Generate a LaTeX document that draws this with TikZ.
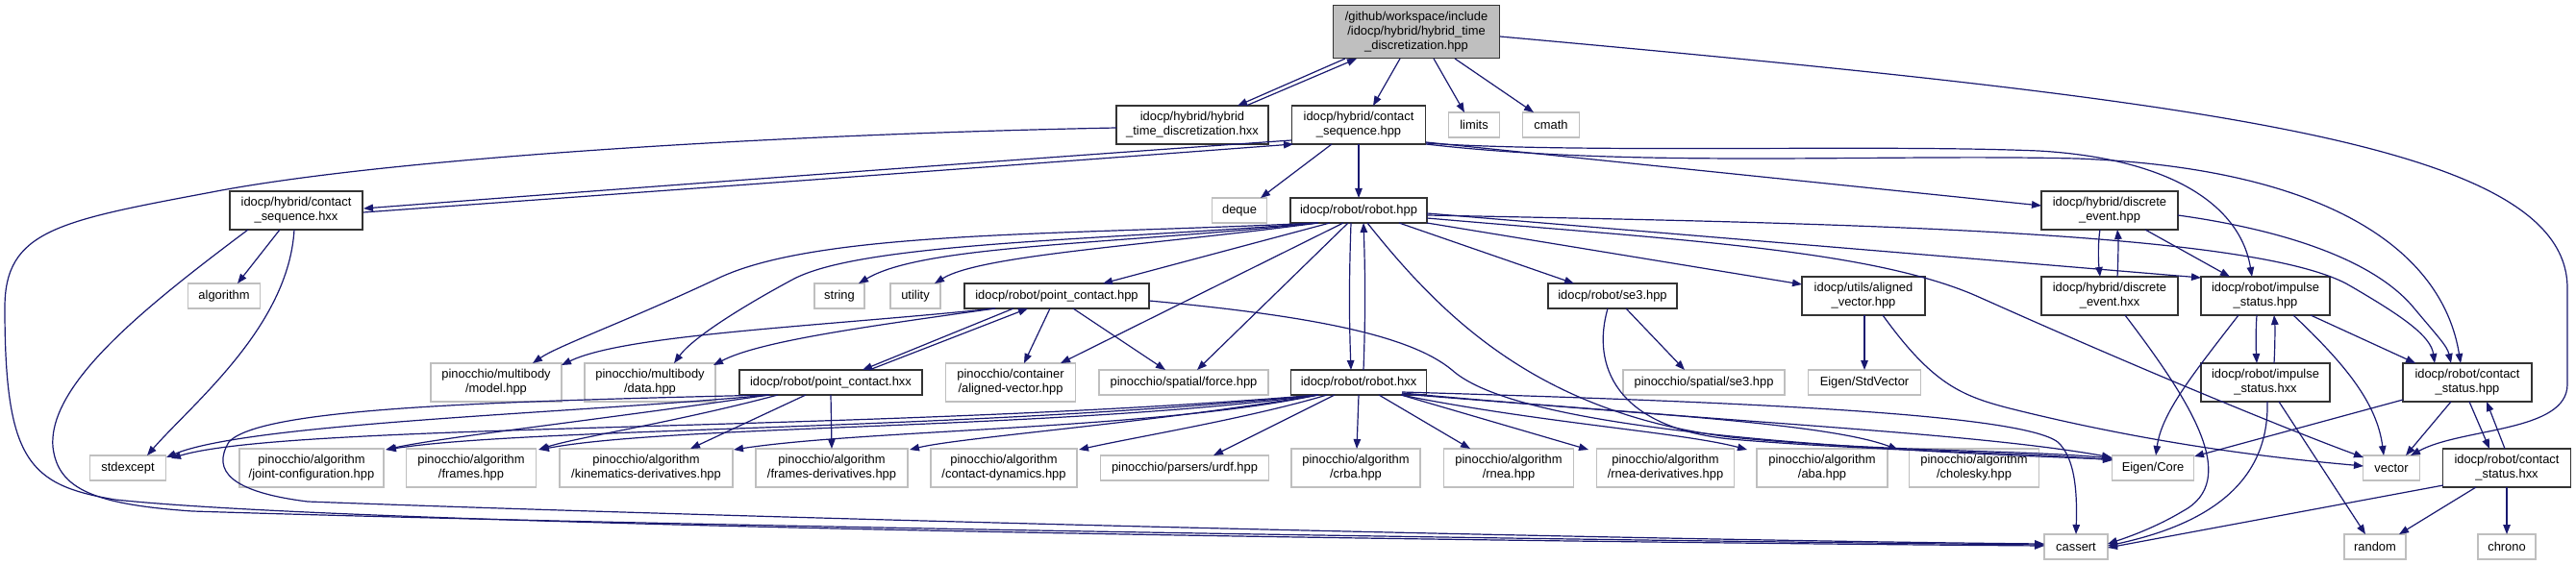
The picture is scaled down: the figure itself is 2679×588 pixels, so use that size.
\documentclass[tikz,border=0pt]{standalone}
\usepackage{fontspec}
\setmainfont{Liberation Sans}
\usetikzlibrary{arrows.meta,calc}
\definecolor{edgec}{HTML}{191970}
\definecolor{extc}{HTML}{BFBFBF}
\definecolor{rootc}{HTML}{BFBFBF}
\definecolor{incc}{HTML}{333333}
\tikzset{
  box/.style 2 args={minimum width=#1pt, minimum height=#2pt, inner sep=0pt, align=center,
    font=\fontsize{12.9}{15}\selectfont, line width=1.3pt},
  inc/.style={draw=incc, fill=white},
  ext/.style={draw=extc, fill=white},
  rootbox/.style={draw=incc, fill=rootc},
  e/.style={draw=edgec, line width=1.2pt, -{Triangle[length=10pt,width=7.5pt]}},
}
\begin{document}
\begin{tikzpicture}[x=1pt,y=-1pt]
\fill[white] (0,0) rectangle (2679,588);
\useasboundingbox (0,0) rectangle (2679,588);
% nodes
\node[box={173}{55},rootbox] (root) at (1473,33) {/github/workspace/include\\/idocp/hybrid/hybrid\_time\\\_discretization.hpp};
\node[box={158}{40},inc] (htsx) at (1240,130) {idocp/hybrid/hybrid\\\_time\_discretization.hxx};
\node[box={139}{40},inc] (csh) at (1413,130) {idocp/hybrid/contact\\\_sequence.hpp};
\node[box={53}{26},ext] (limits) at (1533,130) {limits};
\node[box={59}{26},ext] (cmath) at (1613,130) {cmath};
\node[box={138}{40},inc] (csx) at (308,219) {idocp/hybrid/contact\\\_sequence.hxx};
\node[box={57}{26},ext] (deque) at (1289,219) {deque};
\node[box={142}{26},inc] (robh) at (1413,219) {idocp/robot/robot.hpp};
\node[box={142}{40},inc] (deh) at (2194,219) {idocp/hybrid/discrete\\\_event.hpp};
\node[box={75}{26},ext] (algorithm) at (233,308) {algorithm};
\node[box={52}{26},ext] (string) at (873,308) {string};
\node[box={52}{26},ext] (utility) at (952,308) {utility};
\node[box={192}{26},inc] (pch) at (1099,308) {idocp/robot/point\_contact.hpp};
\node[box={134}{26},inc] (se3) at (1677,308) {idocp/robot/se3.hpp};
\node[box={128}{40},inc] (uav) at (1938,308) {idocp/utils/aligned\\\_vector.hpp};
\node[box={142}{40},inc] (dex) at (2194,308) {idocp/hybrid/discrete\\\_event.hxx};
\node[box={134}{40},inc] (ish) at (2356,308) {idocp/robot/impulse\\\_status.hpp};
\node[box={136}{40},ext] (model) at (516,398) {pinocchio/multibody\\/model.hpp};
\node[box={136}{40},ext] (data) at (676,398) {pinocchio/multibody\\/data.hpp};
\node[box={190}{26},inc] (pcx) at (864,398) {idocp/robot/point\_contact.hxx};
\node[box={135}{40},ext] (cav) at (1051,398) {pinocchio/container\\/aligned-vector.hpp};
\node[box={176}{26},ext] (force) at (1231,398) {pinocchio/spatial/force.hpp};
\node[box={141}{26},inc] (robx) at (1413,398) {idocp/robot/robot.hxx};
\node[box={168}{26},ext] (sse3) at (1772,398) {pinocchio/spatial/se3.hpp};
\node[box={117}{26},ext] (stdvec) at (1939,398) {Eigen/StdVector};
\node[box={134}{40},inc] (isx) at (2356,398) {idocp/robot/impulse\\\_status.hxx};
\node[box={134}{40},inc] (csth) at (2566,398) {idocp/robot/contact\\\_status.hpp};
\node[box={79}{26},ext] (stdexcept) at (133,487) {stdexcept};
\node[box={150}{40},ext] (jc) at (324,487) {pinocchio/algorithm\\/joint-configuration.hpp};
\node[box={135}{40},ext] (frames) at (490,487) {pinocchio/algorithm\\/frames.hpp};
\node[box={180}{40},ext] (kd) at (672,487) {pinocchio/algorithm\\/kinematics-derivatives.hpp};
\node[box={158}{40},ext] (fd) at (865,487) {pinocchio/algorithm\\/frames-derivatives.hpp};
\node[box={152}{40},ext] (cd) at (1044,487) {pinocchio/algorithm\\/contact-dynamics.hpp};
\node[box={175}{26},ext] (urdf) at (1232,487) {pinocchio/parsers/urdf.hpp};
\node[box={134}{40},ext] (crba) at (1410,487) {pinocchio/algorithm\\/crba.hpp};
\node[box={135}{40},ext] (rnea) at (1569,487) {pinocchio/algorithm\\/rnea.hpp};
\node[box={143}{40},ext] (rnead) at (1732,487) {pinocchio/algorithm\\/rnea-derivatives.hpp};
\node[box={136}{40},ext] (aba) at (1895,487) {pinocchio/algorithm\\/aba.hpp};
\node[box={135}{40},ext] (chol) at (2053,487) {pinocchio/algorithm\\/cholesky.hpp};
\node[box={85}{26},ext] (core) at (2239,487) {Eigen/Core};
\node[box={59}{26},ext] (vector) at (2487,487) {vector};
\node[box={133}{40},inc] (cstx) at (2607,487) {idocp/robot/contact\\\_status.hxx};
\node[box={66}{26},ext] (cassert) at (2159,569) {cassert};
\node[box={64}{26},ext] (random) at (2470,569) {random};
\node[box={60}{26},ext] (chrono) at (2607,569) {chrono};
% edges
\draw[e] ($(root)+(-74,28)$) -- ($(htsx)+(47,-20)$);
\draw[e] ($(htsx)+(56,-20)$) -- ($(root)+(-62,28)$);
\draw[e] ($(root)+(-17,28)$) -- ($(csh)+(15,-20)$);
\draw[e] ($(root)+(18,28)$) -- ($(limits)+(-10,-13)$);
\draw[e] ($(root)+(40,28)$) -- ($(cmath)+(-18,-13)$);
\draw[e] ($(root)+(87,5)$) .. controls (2300,105) and (2670,150) .. (2670,300) -- (2670,400) .. controls (2670,450) and (2560,445) .. ($(vector)+(20,-13)$);
\draw[e] ($(htsx)+(-79,3)$) .. controls (800,140) and (400,165) .. (220,200) .. controls (60,230) and (5,240) .. (5,320) .. controls (5,480) and (30,505) .. (120,520) .. controls (400,550) and (1700,565) .. ($(cassert)+(-33,-1)$);
\draw[e] ($(csx)+(-50,20)$) .. controls (150,320) and (50,400) .. (55,465) .. controls (60,510) and (100,525) .. (200,532) .. controls (700,548) and (1700,563) .. ($(cassert)+(-33,-2)$);
\draw[e] ($(pcx)+(-64,13)$) .. controls (500,418) and (270,425) .. (238,460) .. controls (220,490) and (240,512) .. (320,522) .. controls (800,540) and (1700,562) .. ($(cassert)+(-33,-3)$);
\draw[e] ($(csh)+(-70,16)$) .. controls (1000,170) and (600,200) .. ($(csx)+(70,-2)$);
\draw[e] ($(csx)+(70,2)$) .. controls (600,205) and (1000,176) .. ($(csh)+(-68,20)$);
\draw[e] ($(csh)+(-28,20)$) -- ($(deque)+(22,-13)$);
\draw[e] ($(csh)+(0,20)$) -- ($(robh)+(0,-13)$);
\draw[e] ($(csh)+(70,18)$) -- ($(deh)+(-71,-5)$);
\draw[e] ($(csh)+(70,19)$) .. controls (1650,160) and (1950,150) .. (2120,157) .. controls (2260,165) and (2330,215) .. ($(ish)+(-14,-20)$);
\draw[e] ($(csh)+(70,20)$) .. controls (1700,175) and (1950,160) .. (2160,165) .. controls (2420,175) and (2540,260) .. ($(csth)+(-7,-20)$);
\draw[e] ($(csx)+(-17,20)$) -- ($(algorithm)+(14,-13)$);
\draw[e] ($(csx)+(-2,20)$) .. controls (300,340) and (200,420) .. ($(stdexcept)+(20,-13)$);
\draw[e] ($(robh)+(-42,13)$) .. controls (1150,255) and (960,255) .. ($(string)+(20,-13)$);
\draw[e] ($(robh)+(-42,13)$) .. controls (1200,255) and (1020,265) .. ($(utility)+(20,-13)$);
\draw[e] ($(robh)+(-30,13)$) -- ($(pch)+(48,-13)$);
\draw[e] ($(robh)+(-44,13)$) .. controls (1100,245) and (850,240) .. (746,290) .. controls (650,335) and (580,360) .. ($(model)+(38,-20)$);
\draw[e] ($(robh)+(-43,13)$) .. controls (1150,250) and (900,252) .. (826,290) .. controls (770,320) and (720,352) .. ($(data)+(25,-20)$);
\draw[e] ($(robh)+(-16,13)$) -- ($(cav)+(52,-20)$);
\draw[e] ($(robh)+(-11,13)$) -- ($(force)+(14,-13)$);
\draw[e] ($(robh)+(-8,13)$) .. controls (1403,290) and (1403,330) .. ($(robx)+(-8,-13)$);
\draw[e] ($(robx)+(5,-13)$) .. controls (1420,330) and (1420,290) .. ($(robh)+(5,13)$);
\draw[e] ($(robh)+(42,13)$) -- ($(se3)+(-40,-13)$);
\draw[e] ($(robh)+(71,13)$) -- ($(uav)+(-64,-12)$);
\draw[e] ($(robh)+(71,8)$) .. controls (1750,250) and (1950,260) .. (2060,310) .. controls (2250,395) and (2400,455) .. ($(vector)+(-29,-11)$);
\draw[e] ($(robh)+(71,3)$) -- ($(ish)+(-67,-19)$);
\draw[e] ($(robh)+(71,5)$) .. controls (1900,232) and (2350,240) .. (2445,298) .. controls (2500,330) and (2528,350) .. ($(csth)+(-34,-20)$);
\draw[e] ($(robh)+(9,13)$) .. controls (1500,330) and (1600,430) .. (1800,455) .. controls (1950,470) and (2100,468) .. ($(core)+(-42,-10)$);
\draw[e] ($(pch)+(-64,13)$) .. controls (850,340) and (650,348) .. ($(model)+(68,-18)$);
\draw[e] ($(pch)+(-64,13)$) .. controls (900,340) and (790,355) .. ($(data)+(66,-18)$);
\draw[e] ($(pch)+(-45,13)$) -- ($(pcx)+(33,-13)$);
\draw[e] ($(pcx)+(40,-13)$) -- ($(pch)+(-30,13)$);
\draw[e] ($(pch)+(-7,13)$) -- ($(cav)+(14,-20)$);
\draw[e] ($(pch)+(17,13)$) -- ($(force)+(-19,-13)$);
\draw[e] ($(pch)+(96,5)$) .. controls (1380,330) and (1470,352) .. (1510,385) .. controls (1560,430) and (1750,462) .. ($(core)+(-42,-9)$);
\draw[e] ($(se3)+(14,13)$) -- ($(sse3)+(-20,-13)$);
\draw[e] ($(se3)+(-5,13)$) .. controls (1655,380) and (1680,445) .. (1800,457) .. controls (1950,470) and (2100,470) .. ($(core)+(-42,-8)$);
\draw[e] ($(uav)+(1,20)$) -- ($(stdvec)+(0,-13)$);
\draw[e] ($(uav)+(20,20)$) .. controls (2010,400) and (2040,412) .. (2090,425) .. controls (2250,465) and (2380,478) .. ($(vector)+(-29,-2)$);
\draw[e] ($(dex)+(16,20)$) .. controls (2280,420) and (2330,500) .. (2270,532) .. controls (2240,550) and (2210,560) .. ($(cassert)+(33,-3)$);
\draw[e] ($(deh)+(-10,20)$) .. controls (2182,250) and (2182,270) .. ($(dex)+(-10,-20)$);
\draw[e] ($(dex)+(8,-20)$) .. controls (2203,270) and (2203,250) .. ($(deh)+(8,20)$);
\draw[e] ($(deh)+(37,20)$) -- ($(ish)+(-37,-20)$);
\draw[e] ($(deh)+(71,5)$) .. controls (2380,240) and (2470,272) .. (2510,320) .. controls (2535,350) and (2545,360) .. ($(csth)+(-17,-20)$);
\draw[e] ($(ish)+(-28,20)$) .. controls (2280,390) and (2248,430) .. ($(core)+(3,-13)$);
\draw[e] ($(ish)+(-9,20)$) .. controls (2346,340) and (2346,360) .. ($(isx)+(-9,-20)$);
\draw[e] ($(isx)+(9,-20)$) .. controls (2366,360) and (2366,340) .. ($(ish)+(9,20)$);
\draw[e] ($(ish)+(29,20)$) .. controls (2440,380) and (2472,420) .. ($(vector)+(-8,-13)$);
\draw[e] ($(ish)+(47,20)$) -- ($(csth)+(-54,-20)$);
\draw[e] ($(isx)+(2,20)$) .. controls (2360,500) and (2300,545) .. ($(cassert)+(33,-1)$);
\draw[e] ($(isx)+(14,20)$) -- ($(random)+(-10,-13)$);
\draw[e] ($(csth)+(-67,18)$) -- ($(core)+(43,-12)$);
\draw[e] ($(csth)+(-17,20)$) -- ($(vector)+(15,-13)$);
\draw[e] ($(csth)+(2,20)$) -- ($(cstx)+(-18,-20)$);
\draw[e] ($(cstx)+(-2,-20)$) -- ($(csth)+(20,20)$);
\draw[e] ($(cstx)+(-66,18)$) -- ($(cassert)+(33,1)$);
\draw[e] ($(cstx)+(-32,20)$) -- ($(random)+(25,-13)$);
\draw[e] ($(cstx)+(0,20)$) -- ($(chrono)+(0,-13)$);
\draw[e] ($(pcx)+(-64,13)$) .. controls (600,430) and (260,440) .. ($(stdexcept)+(40,-11)$);
\draw[e] ($(pcx)+(-64,13)$) .. controls (600,440) and (460,455) .. ($(jc)+(77,-19)$);
\draw[e] ($(pcx)+(-55,13)$) .. controls (700,440) and (600,455) .. ($(frames)+(70,-19)$);
\draw[e] ($(pcx)+(-26,13)$) -- ($(kd)+(46,-20)$);
\draw[e] ($(pcx)+(0,13)$) -- ($(fd)+(0,-20)$);
\draw[e] ($(robx)+(-42,13)$) .. controls (900,450) and (300,440) .. ($(stdexcept)+(45,-10)$);
\draw[e] ($(robx)+(-42,13)$) .. controls (1000,448) and (550,445) .. ($(jc)+(78,-19)$);
\draw[e] ($(robx)+(-42,13)$) .. controls (1100,447) and (700,442) .. ($(frames)+(71,-19)$);
\draw[e] ($(robx)+(-42,13)$) .. controls (1200,447) and (900,447) .. ($(kd)+(91,-19)$);
\draw[e] ($(robx)+(-42,13)$) .. controls (1200,440) and (1000,455) .. ($(fd)+(81,-19)$);
\draw[e] ($(robx)+(-33,13)$) .. controls (1300,435) and (1180,455) .. ($(cd)+(78,-19)$);
\draw[e] ($(robx)+(-25,13)$) -- ($(urdf)+(30,-13)$);
\draw[e] ($(robx)+(0,13)$) -- ($(crba)+(1,-20)$);
\draw[e] ($(robx)+(21,13)$) -- ($(rnea)+(-40,-20)$);
\draw[e] ($(robx)+(44,13)$) -- ($(rnead)+(-80,-19)$);
\draw[e] ($(robx)+(44,13)$) .. controls (1600,440) and (1750,450) .. ($(aba)+(-78,-19)$);
\draw[e] ($(robx)+(45,12)$) .. controls (1700,430) and (1900,440) .. ($(chol)+(-79,-19)$);
\draw[e] ($(robx)+(45,11)$) .. controls (1800,440) and (2050,450) .. ($(core)+(-43,-11)$);
\draw[e] ($(robx)+(45,10)$) .. controls (1800,418) and (2100,430) .. (2140,460) .. controls (2160,478) and (2160,520) .. ($(cassert)+(0,-13)$);
\end{tikzpicture}
\end{document}
